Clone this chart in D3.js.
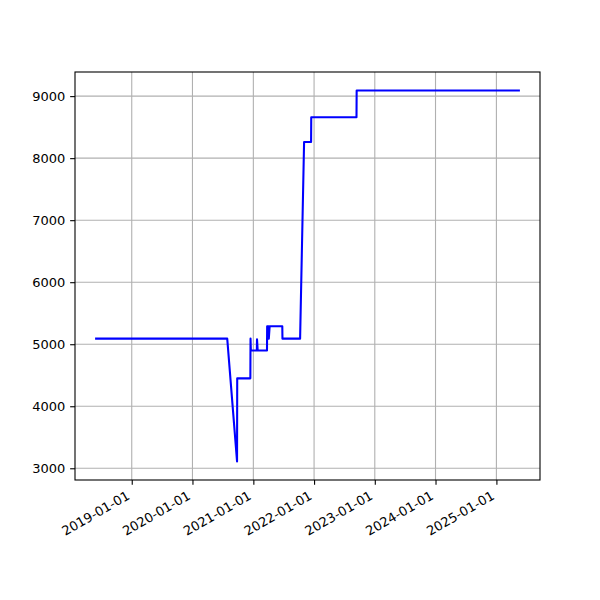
<!DOCTYPE html>
<html>
<head>
<meta charset="utf-8">
<script src="https://cdn.jsdelivr.net/npm/d3@7"></script>
<style>
  html, body { margin: 0; padding: 0; background: #fff; }
  svg { display: block; }
  text { font-family: "DejaVu Sans", sans-serif; }
</style>
</head>
<body>
<svg id="chart" width="600" height="600"></svg>
<script>
// ---- data ----
const dates = [
  "2018-06-01", "2020-07-28", "2020-09-25", "2020-09-26", "2020-12-14",
  "2020-12-15", "2020-12-17", "2021-01-22", "2021-01-23", "2021-01-27",
  "2021-03-24", "2021-03-25", "2021-04-03", "2021-04-04", "2021-04-09",
  "2021-06-24", "2021-06-25", "2021-10-09", "2021-11-02", "2021-12-14",
  "2021-12-15", "2022-09-13", "2022-09-14", "2025-05-16"
];
const values = [
  5090, 5090, 3110, 4450, 4450,
  5090, 4900, 4900, 5080, 4900,
  4900, 5290, 5290, 5090, 5290,
  5290, 5090, 5090, 8260, 8260,
  8660, 8660, 9090, 9090
];
const xTickLabels = ["2019-01-01", "2020-01-01", "2021-01-01", "2022-01-01",
                     "2023-01-01", "2024-01-01", "2025-01-01"];
const yTicks = [3000, 4000, 5000, 6000, 7000, 8000, 9000];

// ---- layout ----
const mLeft = 75, mRight = 540, mTop = 72, mBottom = 480;
const fontSize = 13;
const parse = d3.utcParse("%Y-%m-%d");
const pts = dates.map((d, i) => ({ t: parse(d), v: values[i] }));

const tExt = d3.extent(pts, d => d.t);
const tSpan = tExt[1] - tExt[0];
const x = d3.scaleUtc()
  .domain([new Date(+tExt[0] - tSpan * 0.05), new Date(+tExt[1] + tSpan * 0.05)])
  .range([mLeft, mRight]);

const vExt = d3.extent(values);
const vSpan = vExt[1] - vExt[0];
const y = d3.scaleLinear()
  .domain([vExt[0] - vSpan * 0.05, vExt[1] + vSpan * 0.05])
  .range([mBottom, mTop]);

const svg = d3.select("#chart");
const xTickDates = xTickLabels.map(parse);

// grid
const grid = svg.append("g").attr("stroke", "#b0b0b0").attr("stroke-width", 1.1);
grid.selectAll("line.gx").data(xTickDates).enter().append("line")
  .attr("x1", d => x(d)).attr("x2", d => x(d))
  .attr("y1", mTop).attr("y2", mBottom);
grid.selectAll("line.gy").data(yTicks).enter().append("line")
  .attr("x1", mLeft).attr("x2", mRight)
  .attr("y1", d => y(d)).attr("y2", d => y(d));

// line
const line = d3.line().x(d => x(d.t)).y(d => y(d.v));
svg.append("path").datum(pts)
  .attr("d", line)
  .attr("fill", "none")
  .attr("stroke", "#0000ff")
  .attr("stroke-width", 2.08)
  .attr("stroke-linejoin", "round")
  .attr("stroke-linecap", "square");

// y axis
const yAxis = d3.axisLeft(y).tickValues(yTicks).tickSize(4.86).tickPadding(4.86)
  .tickFormat(d3.format("d"));
const gy = svg.append("g").attr("transform", `translate(${mLeft},0)`).call(yAxis);
gy.select(".domain").remove();
gy.selectAll(".tick line").attr("stroke", "#000").attr("stroke-width", 1.1);
gy.selectAll(".tick text").attr("font-size", fontSize)
  .attr("font-family", "DejaVu Sans").attr("fill", "#000");

// x axis
const xAxis = d3.axisBottom(x).tickValues(xTickDates).tickSize(4.86).tickPadding(4.86)
  .tickFormat((d, i) => xTickLabels[i]);
const gx = svg.append("g").attr("transform", `translate(0,${mBottom})`).call(xAxis);
gx.select(".domain").remove();
gx.selectAll(".tick line").attr("stroke", "#000").attr("stroke-width", 1.1);
const asc = fontSize * 0.76, desc = fontSize * 0.24;
gx.selectAll(".tick text")
  .attr("font-size", fontSize).attr("font-family", "DejaVu Sans").attr("fill", "#000")
  .attr("text-anchor", "end")
  .attr("dy", null)
  .attr("y", 0)
  .attr("transform", `translate(${-0.5 * desc},${4.86 + 4.86 + 0.866 * asc}) rotate(-30)`);

// frame
svg.append("rect")
  .attr("x", mLeft).attr("y", mTop)
  .attr("width", mRight - mLeft).attr("height", mBottom - mTop)
  .attr("fill", "none").attr("stroke", "#000").attr("stroke-width", 1.1);
</script>
</body>
</html>
